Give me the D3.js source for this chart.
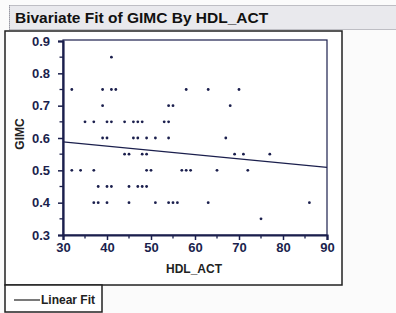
<!DOCTYPE html>
<html><head><meta charset="utf-8">
<script src="https://cdn.jsdelivr.net/npm/d3@7"></script>
<style>
html,body{margin:0;padding:0;background:#fbfbfb;}
svg{display:block;font-family:"Liberation Sans",Arial,sans-serif;}
</style></head>
<body><svg id="c" width="396" height="313"></svg>
<script>
// Data
const hdlAct = [41, 32,39,41,42,58,63,70, 39,54,55,68, 35,37,40,41,44,46,47,48,53,54,
  39,40,46,47,49,51,54,67, 44,45,48,49,69,71,77, 32,34,37,49,50,57,58,59,65,72,
  38,40,41,45,47,48,49, 37,38,40,45,51,54,55,56,63,86, 75];
const gimc = [0.85, 0.75,0.75,0.75,0.75,0.75,0.75,0.75, 0.70,0.70,0.70,0.70,
  0.65,0.65,0.65,0.65,0.65,0.65,0.65,0.65,0.65,0.65,
  0.60,0.60,0.60,0.60,0.60,0.60,0.60,0.60, 0.55,0.55,0.55,0.55,0.55,0.55,0.55,
  0.50,0.50,0.50,0.50,0.50,0.50,0.50,0.50,0.50,0.50,
  0.45,0.45,0.45,0.45,0.45,0.45,0.45, 0.40,0.40,0.40,0.40,0.40,0.40,0.40,0.40,0.40,0.40, 0.35];
const fitX = [30, 90];
const fitY = [0.588, 0.509];
const xTicks = [30,40,50,60,70,80,90];
const yTicks = [0.3,0.4,0.5,0.6,0.7,0.8,0.9];
const titleText = "Bivariate Fit of GIMC By HDL_ACT";
const xLabel = "HDL_ACT", yLabel = "GIMC", legendLabel = "Linear Fit";

const ink = "#1b1f4d";
const svg = d3.select("#c");

// title bar
svg.append("rect").attr("x",9.5).attr("y",5.5).attr("width",390).attr("height",24)
  .attr("fill","#e9e9ed").attr("stroke","#8a8a95").attr("stroke-dasharray","1,1");
svg.append("line").attr("x1",9.5).attr("x2",9.5).attr("y1",5).attr("y2",305)
  .attr("stroke","#9a9aa5").attr("stroke-dasharray","1,1");
svg.append("text").attr("x",15).attr("y",23).attr("font-size",15.5).attr("font-weight","bold")
  .attr("fill","#111").text(titleText);

// outer frame
svg.append("rect").attr("x",5).attr("y",31).attr("width",337).attr("height",254)
  .attr("fill","#fff").attr("stroke","#222").attr("stroke-width",1.5);

const x = d3.scaleLinear().domain([30,90]).range([63,327]);
const y = d3.scaleLinear().domain([0.3,0.9]).range([235,41]);

// plot frame
svg.append("rect").attr("x",63).attr("y",40).attr("width",264).attr("height",195)
  .attr("fill","#fff").attr("stroke",ink).attr("stroke-width",1.2);

// minor ticks
const xMinor = d3.range(35,90,10);
const yMinor = d3.range(0.35,0.9,0.1);
svg.append("g").selectAll("line").data(xMinor).join("line")
  .attr("x1",d=>x(d)).attr("x2",d=>x(d)).attr("y1",235).attr("y2",238.5)
  .attr("stroke",ink).attr("stroke-width",1.3);
svg.append("g").selectAll("line").data(yMinor).join("line")
  .attr("y1",d=>y(d)).attr("y2",d=>y(d)).attr("x1",59.5).attr("x2",63)
  .attr("stroke",ink).attr("stroke-width",1.3);

// axes
const xAxis = svg.append("g").attr("transform","translate(0,235)")
  .call(d3.axisBottom(x).tickValues(xTicks).tickSize(5).tickPadding(3).tickFormat(d3.format("d")));
const yAxis = svg.append("g").attr("transform","translate(63,0)")
  .call(d3.axisLeft(y).tickValues(yTicks).tickSize(5).tickPadding(8).tickFormat(d3.format(".1f")));
[xAxis,yAxis].forEach(g=>{
  g.select(".domain").attr("stroke",ink).attr("stroke-width",2.2);
  g.selectAll(".tick line").attr("stroke",ink).attr("stroke-width",1.5);
  g.selectAll(".tick text").attr("fill",ink).attr("font-size",13).attr("font-weight","bold")
    .attr("font-family","Liberation Sans, Arial, sans-serif");
});

// fit line
svg.append("line").attr("x1",x(fitX[0])).attr("y1",y(fitY[0])).attr("x2",x(fitX[1])).attr("y2",y(fitY[1]))
  .attr("stroke",ink).attr("stroke-width",1.3);

// points
svg.append("g").selectAll("circle").data(hdlAct.map((v,i)=>[v,gimc[i]])).join("circle")
  .attr("cx",d=>x(d[0])).attr("cy",d=>y(d[1])).attr("r",1.4).attr("fill",ink);

// axis labels
svg.append("text").attr("x",194).attr("y",273).attr("text-anchor","middle")
  .attr("font-size",12).attr("font-weight","bold").attr("fill","#222").text(xLabel);
svg.append("text").attr("transform","translate(24,134) rotate(-90)").attr("text-anchor","middle")
  .attr("font-size",12).attr("font-weight","bold").attr("fill","#222").text(yLabel);

// legend box
svg.append("rect").attr("x",5).attr("y",285).attr("width",97).attr("height",27)
  .attr("fill","#fff").attr("stroke","#222").attr("stroke-width",1.5);
svg.append("line").attr("x1",14).attr("x2",40).attr("y1",300).attr("y2",300)
  .attr("stroke","#222").attr("stroke-width",1.2);
svg.append("text").attr("x",41).attr("y",304).attr("font-size",12).attr("font-weight","bold")
  .attr("fill","#222").text(legendLabel);
</script></body></html>
